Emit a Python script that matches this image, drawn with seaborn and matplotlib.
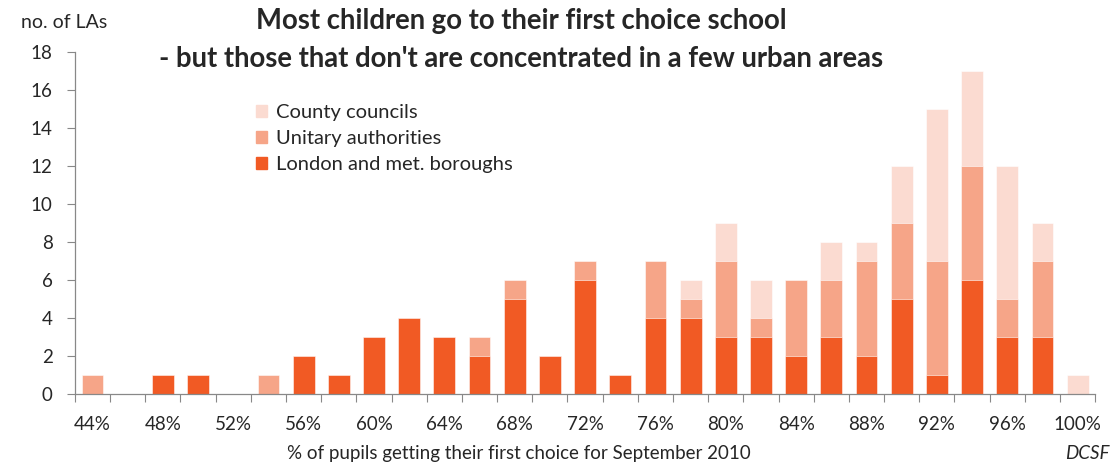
import numpy as np
import pandas as pd
import matplotlib
matplotlib.use("Agg")
import matplotlib.pyplot as plt
import seaborn as sns
from matplotlib.patches import Patch

# Share of pupils getting their first-choice school (2% bands)
bands = list(range(44, 101, 2))
london = [0, 0, 1, 1, 0, 0, 2, 1, 3, 4, 3, 2, 5, 2, 6, 1, 4, 4, 3, 3, 2, 3, 2, 5, 1, 6, 3, 3, 0]
unitary = [1, 0, 0, 0, 0, 1, 0, 0, 0, 0, 0, 1, 1, 0, 1, 0, 3, 1, 4, 1, 4, 3, 5, 4, 6, 6, 2, 4, 0]
county = [0, 0, 0, 0, 0, 0, 0, 0, 0, 0, 0, 0, 0, 0, 0, 0, 0, 1, 2, 2, 0, 2, 1, 3, 8, 5, 7, 2, 1]
tick_labels = [f"{b}%" for b in bands]

c_london = "#F15A24"
c_unitary = "#F6A588"
c_county = "#FBDBD1"

sns.set_style("white")
plt.rcParams["font.family"] = ["Lato", "DejaVu Sans"]

df = pd.DataFrame({"band": tick_labels, "london": london,
                   "unitary": unitary, "county": county})
df["lu"] = df["london"] + df["unitary"]
df["total"] = df["lu"] + df["county"]

fig = plt.figure(figsize=(11.12, 4.63), dpi=100)
ax = fig.add_axes([0.0674, 0.149, 0.9175, 0.739])

kw = dict(x="band", order=tick_labels, width=0.62, ax=ax,
          edgecolor="white", linewidth=0.4)
sns.barplot(data=df, y="total", color=c_county, saturation=1, **kw)
sns.barplot(data=df, y="lu", color=c_unitary, saturation=1, **kw)
sns.barplot(data=df, y="london", color=c_london, saturation=1, **kw)

ax.set_xlim(-0.5, len(bands) - 0.5)
ax.set_ylim(0, 18)
ax.set_yticks(np.arange(0, 19, 2))
ax.tick_params(axis="y", labelsize=13.5, length=6, width=0.8,
               color="#888888", direction="out", left=True, pad=10)

# labels every other band, tick marks on band boundaries
ax.set_xticks(np.arange(0, len(bands), 2))
ax.set_xticklabels(tick_labels[::2], fontsize=13.5)
ax.tick_params(axis="x", which="major", length=0, pad=16)
ax.set_xticks(np.arange(-0.5, len(bands), 1), minor=True)
ax.tick_params(axis="x", which="minor", length=6, width=0.8,
               color="#888888", direction="out", bottom=True)

for s in ["top", "right"]:
    ax.spines[s].set_visible(False)
for s in ["left", "bottom"]:
    ax.spines[s].set_color("#888888")
    ax.spines[s].set_linewidth(0.9)

ax.set_xlabel("")
ax.set_ylabel("")

fig.text(0.019, 0.952, "no. of LAs", fontsize=14, ha="left", va="center")
fig.text(0.469, 0.955, "Most children go to their first choice school",
         fontsize=19.8, fontweight="bold", ha="center", va="center")
fig.text(0.469, 0.872, "- but those that don't are concentrated in a few urban areas",
         fontsize=19.8, fontweight="bold", ha="center", va="center")
fig.text(0.467, 0.003, "% of pupils getting their first choice for September 2010",
         fontsize=13.5, ha="center", va="bottom")
fig.text(0.998, 0.003, "DCSF", fontsize=13.5, style="italic",
         ha="right", va="bottom")

handles = [Patch(color=c_county, label="County councils"),
           Patch(color=c_unitary, label="Unitary authorities"),
           Patch(color=c_london, label="London and met. boroughs")]
ax.legend(handles=handles, loc="upper left", bbox_to_anchor=(0.16, 0.90),
          frameon=False, fontsize=14.5, handlelength=0.55, handleheight=0.55,
          handletextpad=0.45, labelspacing=0.45)

fig.savefig("out.png", dpi=100)
